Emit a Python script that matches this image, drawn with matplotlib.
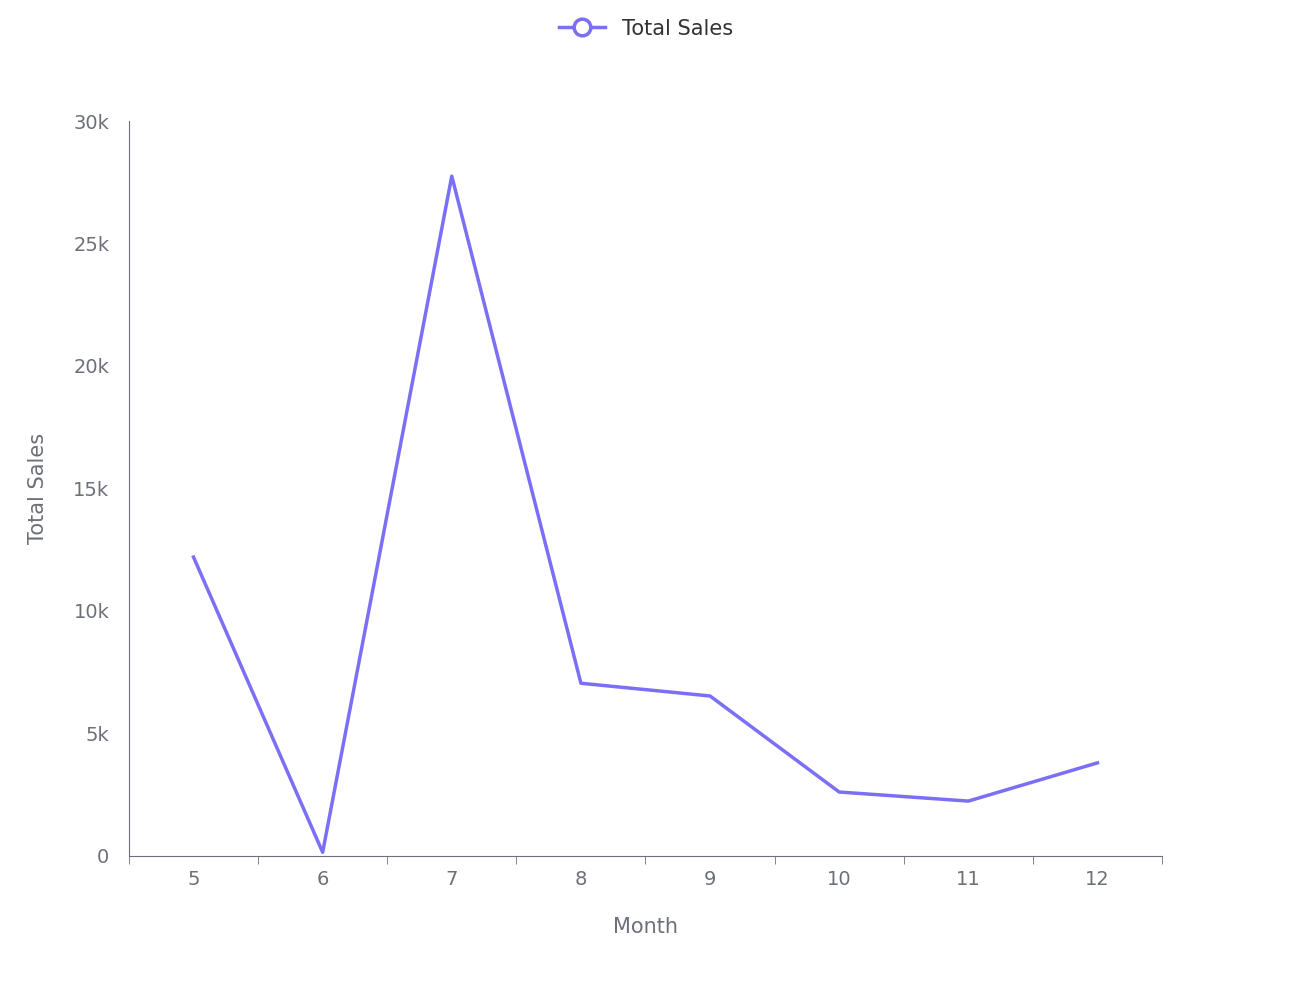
import matplotlib.pyplot as plt
from matplotlib.lines import Line2D

months = ["5", "6", "7", "8", "9", "10", "11", "12"]
sales = [12200, 150, 27750, 7050, 6530, 2610, 2240, 3800]
y_ticks = [0, 5000, 10000, 15000, 20000, 25000, 30000]
y_labels = ["0", "5k", "10k", "15k", "20k", "25k", "30k"]

line_color = "#7b6ff5"
axis_color = "#6e7079"

fig = plt.figure(figsize=(12.92, 9.96), dpi=100)
ax = fig.add_axes([0.0998, 0.1406, 0.7996, 0.7379])

x = list(range(len(months)))
ax.plot(x, sales, color=line_color, linewidth=2.5)

ax.set_xlim(-0.5, len(months) - 0.5)
ax.set_ylim(0, 30000)
ax.set_xticks(x)
ax.set_xticklabels(months)
ax.set_xticks([i - 0.5 for i in range(len(months) + 1)], minor=True)
ax.set_yticks(y_ticks)
ax.set_yticklabels(y_labels)

ax.tick_params(axis="x", which="major", length=0, pad=10, labelsize=14, labelcolor=axis_color)
ax.tick_params(axis="x", which="minor", length=6, color=axis_color)
ax.tick_params(axis="y", length=0, pad=14, labelsize=14, labelcolor=axis_color)

for s in ["top", "right"]:
    ax.spines[s].set_visible(False)
for s in ["left", "bottom"]:
    ax.spines[s].set_color(axis_color)

ax.set_xlabel("Month", fontsize=15, color=axis_color, labelpad=20)
ax.set_ylabel("Total Sales", fontsize=15, color=axis_color, labelpad=18)

handle = Line2D([], [], color=line_color, linewidth=2.5, marker="o", markersize=12,
                markerfacecolor="white", markeredgewidth=2.5, markeredgecolor=line_color)
fig.legend([handle], ["Total Sales"], loc="upper center", bbox_to_anchor=(0.5, 1.0),
           frameon=False, fontsize=15, labelcolor="#333333", handlelength=2.2)

fig.savefig("out.png", dpi=100)
